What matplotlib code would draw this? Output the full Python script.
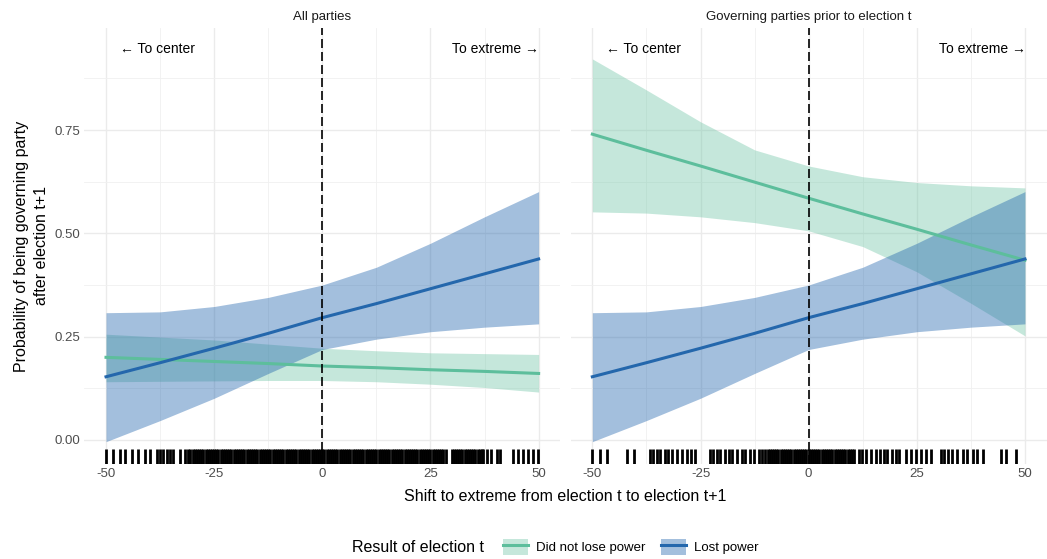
import matplotlib
matplotlib.use("Agg")
import matplotlib.pyplot as plt
from matplotlib.patches import Patch
from matplotlib.lines import Line2D

plt.rcParams["font.family"] = ["Liberation Sans", "DejaVu Sans"]
plt.rcParams["axes.unicode_minus"] = False

# values
shift = [-50, -37.5, -25, -12.5, 0, 12.5, 25, 37.5, 50]

lost_fit = [0.153, 0.187, 0.222, 0.258, 0.296, 0.330, 0.366, 0.402, 0.438]
lost_hi = [0.308, 0.310, 0.323, 0.345, 0.375, 0.418, 0.476, 0.540, 0.601]
lost_lo = [-0.004, 0.047, 0.101, 0.161, 0.219, 0.244, 0.262, 0.273, 0.281]

kept_all_fit = [0.200, 0.195, 0.190, 0.185, 0.179, 0.175, 0.170, 0.166, 0.161]
kept_all_hi = [0.256, 0.249, 0.242, 0.232, 0.222, 0.216, 0.211, 0.209, 0.207]
kept_all_lo = [0.141, 0.142, 0.143, 0.144, 0.144, 0.141, 0.135, 0.127, 0.116]

kept_gov_fit = [0.740, 0.701, 0.663, 0.624, 0.585, 0.547, 0.510, 0.472, 0.435]
kept_gov_hi = [0.922, 0.847, 0.770, 0.702, 0.663, 0.637, 0.623, 0.615, 0.610]
kept_gov_lo = [0.552, 0.549, 0.540, 0.526, 0.506, 0.468, 0.407, 0.331, 0.252]

# rug: observed shifts
rug_all = [
    -50.0, -48.5, -46.8, -45.6, -44.1, -42.7, -41.0, -39.8, -38.3, -37.5,
    -36.8, -36.0, -35.2, -34.5, -32.9, -31.7,
    -31.0, -30.5, -30.0, -29.5, -29.0, -28.5, -28.0, -27.5, -27.0, -26.5,
    -26.0, -25.5, -25.0, -24.5, -24.0, -23.5, -23.0, -22.5, -22.0, -21.5,
    -21.0, -20.5, -20.0, -19.5, -19.0, -18.5, -18.0, -17.5, -17.0, -16.5,
    -16.0, -15.5, -15.0, -14.5, -14.0, -13.5, -13.0, -12.5, -12.0, -11.5,
    -11.0, -10.5, -10.0, -9.5, -9.0, -8.5, -8.0, -7.5, -7.0, -6.5,
    -6.0, -5.5, -5.0, -4.5, -4.0, -3.5, -3.0, -2.5, -2.0, -1.5,
    -1.0, -0.5, 0.0, 0.5, 1.0, 1.5, 2.0, 2.5, 3.0, 3.5,
    4.0, 4.5, 5.0, 5.5, 6.0, 6.5, 7.0, 7.5, 8.0, 8.5,
    9.0, 9.5, 10.0, 10.5, 11.0, 11.5, 12.0, 12.5, 13.0, 13.5,
    14.0, 14.5, 15.0, 15.5, 16.0, 16.5, 17.0, 17.5, 18.0, 18.5,
    19.0, 19.5, 20.0, 20.5, 21.0, 21.5, 22.0, 22.5, 23.0, 23.5,
    24.0, 24.5, 25.0, 25.5, 26.0, 26.5, 27.0, 27.5, 28.0, 28.7,
    29.9, 30.4, 30.9, 31.4, 31.9, 32.4, 32.9, 33.4, 33.9, 34.4,
    34.9, 35.4, 35.9, 36.4, 36.9, 37.2, 38.0, 39.1, 40.3, 41.1,
    44.1, 45.3, 46.4, 47.6, 48.8, 49.9,
]
rug_gov = [
    -50.0, -48.2, -46.7, -42.0, -40.3, -36.6, -35.9, -35.1, -34.3, -33.2,
    -32.4, -31.5, -30.4, -29.3, -28.1, -27.1, -26.2, -22.7, -22.0, -21.2,
    -20.4, -19.3, -18.5, -17.7, -16.6, -15.4, -14.6, -13.5, -12.7, -11.5,
    -10.8, -10.0, -9.5, -9.0, -8.5, -8.0, -7.5, -7.0, -6.5, -6.0,
    -5.5, -5.0, -4.5, -4.0, -3.5, -3.0, -2.5, -2.0, -1.5, -1.0,
    -0.5, 0.0, 0.5, 1.0, 1.5, 2.0, 2.5, 3.0, 3.5, 4.0,
    4.5, 5.0, 5.5, 6.0, 6.5, 7.0, 7.5, 8.0, 8.5, 9.0,
    9.5, 10.0, 10.5, 11.6, 12.4, 13.2, 14.3, 15.5, 16.4, 17.4,
    18.2, 19.2, 20.1, 21.0, 22.4, 23.6, 24.8, 25.9, 27.1, 28.2,
    30.5, 31.3, 32.1, 33.2, 34.4, 35.6, 36.7, 37.9, 39.0, 40.2,
    44.4, 45.6, 47.9,
]

green_line = "#5DBE9C"
green_fill = "#6EC5A5"
blue_line = "#2467AC"
blue_fill = "#195FAA"


def panel(ax, title, kept_fit, kept_lo, kept_hi, rug):
    ax.set_xlim(-55, 55)
    ax.set_ylim(-0.058, 0.997)
    ax.set_xticks([-50, -25, 0, 25, 50])
    ax.set_xticks([-37.5, -12.5, 12.5, 37.5], minor=True)
    ax.set_yticks([0, 0.25, 0.5, 0.75])
    ax.set_yticks([0.125, 0.375, 0.625, 0.875], minor=True)
    ax.grid(True, which="major", color="#EBEBEB", lw=1.0)
    ax.grid(True, which="minor", color="#F0F0F0", lw=0.6)
    ax.set_axisbelow(True)
    for s in ax.spines.values():
        s.set_visible(False)
    ax.tick_params(which="both", length=0, labelsize=9.5, labelcolor="#4D4D4D", pad=3)

    ax.fill_between(shift, kept_lo, kept_hi, color=green_fill, alpha=0.4, lw=0)
    ax.plot(shift, kept_fit, color=green_line, lw=2.2)
    ax.fill_between(shift, lost_lo, lost_hi, color=blue_fill, alpha=0.4, lw=0)
    ax.plot(shift, lost_fit, color=blue_line, lw=2.2)

    ax.axvline(0, color="black", lw=1.2, ls=(0, (5.4, 2.4)), zorder=5)
    for x in rug:
        ax.plot([x, x], [0, 0.035], color="black", lw=2.0,
                transform=ax.get_xaxis_transform(), solid_capstyle="butt")

    ax.text(-38.2, 0.945, "\u2190 To center", ha="center", va="center",
            fontsize=10, color="black")
    ax.text(40.1, 0.945, "To extreme \u2192", ha="center", va="center",
            fontsize=10, color="black")
    ax.set_title(title, fontsize=9.5, color="#1A1A1A", pad=6)


fig = plt.figure(figsize=(10.47, 5.59), dpi=100)
ax1 = fig.add_axes([0.0806, 0.170, 0.4545, 0.780])
ax2 = fig.add_axes([0.5451, 0.170, 0.4545, 0.780])

panel(ax1, "All parties", kept_all_fit, kept_all_lo, kept_all_hi, rug_all)
panel(ax2, "Governing parties prior to election t", kept_gov_fit, kept_gov_lo, kept_gov_hi, rug_gov)
ax2.set_yticklabels([])

ylab = ax1.set_ylabel("Probability of being governing party\nafter election t+1", fontsize=11.5,
                      labelpad=4)
ylab.set_linespacing(1.45)
fig.text(0.540, 0.111, "Shift to extreme from election t to election t+1",
         ha="center", va="center", fontsize=11.5)

fig.text(352 / 1047, 12 / 559, "Result of election t", ha="left", va="center", fontsize=11.5)
handles = [
    (Patch(facecolor=green_fill, alpha=0.4, lw=0), Line2D([], [], color=green_line, lw=2.2)),
    (Patch(facecolor=blue_fill, alpha=0.4, lw=0), Line2D([], [], color=blue_line, lw=2.2)),
]
fig.legend(handles, ["Did not lose power", "Lost power"], ncol=2, frameon=False,
           loc="center left", bbox_to_anchor=(503 / 1047, 12 / 559), fontsize=9.5,
           handlelength=1.9, handleheight=1.4, handletextpad=0.6, columnspacing=1.2,
           borderaxespad=0, borderpad=0)

fig.savefig("out.png", dpi=100)
